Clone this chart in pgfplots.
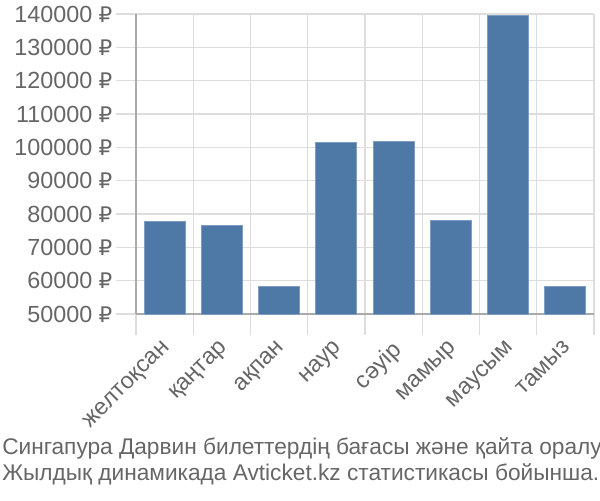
\documentclass[border=0pt]{standalone}
\usepackage{pgfplots}
\pgfplotsset{compat=1.18}
\usepackage{fontspec}
\setmainfont{Liberation Sans}
\newfontfamily\rub{DejaVu Sans}[Scale=0.92]
\definecolor{barc}{HTML}{4E79A7}
\definecolor{baredge}{HTML}{7F9DC2}
\definecolor{gridc}{HTML}{DDDDDD}
\definecolor{axc}{HTML}{AAAAAA}
\definecolor{txt}{HTML}{666666}
\begin{document}
\begin{tikzpicture}
\path[use as bounding box] (0,0) rectangle (450pt,-375pt);
\begin{axis}[
  at={(102pt,-235.5pt)}, anchor=south west,
  scale only axis, width=343.5pt, height=225pt,
  xmin=0, xmax=8, ymin=50000, ymax=140000,
  clip=true,
  axis x line*=bottom, axis y line*=left,
  axis line style={draw=axc, line width=0.9pt},
  xtick={0.5,1.5,...,7.5},
  xticklabels={желтоқсан,қаңтар,ақпан,наур,сәуір,мамыр,маусым,тамыз},
  minor xtick={0,1,...,8},
  ytick={50000,60000,...,140000},
  scaled y ticks=false,
  tick align=outside,
  major tick length=15pt, minor tick length=15.5pt,
  major x tick style={draw=none},
  minor x tick style={draw=gridc, line width=1pt},
  major y tick style={draw=gridc, line width=1pt},
  ymajorgrids, xminorgrids,
  major grid style={draw=gridc, line width=1pt},
  minor grid style={draw=gridc, line width=1pt},
  /pgf/number format/assume math mode=true,
  yticklabel={\pgfmathprintnumber[fixed,precision=0,1000 sep={}]{\tick}~{\rub ₽}},
  ticklabel style={font=\fontsize{17.5}{21}\selectfont, text=txt},
  yticklabel style={inner sep=0pt, xshift=-2.5pt},
  xticklabel style={rotate=45, anchor=north east, inner sep=0pt, xshift=-4.5pt, yshift=-1pt},
]
\addplot[ybar, bar width=30.75pt, fill=barc, draw=baredge, line width=0.6pt] coordinates {
 (0.5,77800) (1.5,76700) (2.5,58400) (3.5,101400) (4.5,101800) (5.5,78100) (6.5,139600) (7.5,58300)
};
\end{axis}
\node[anchor=base west, inner sep=0pt, text=txt, font=\fontsize{17}{21}\selectfont] at (1.5pt,-340.5pt) {Сингапура Дарвин билеттердің бағасы және қайта оралу};
\node[anchor=base west, inner sep=0pt, text=txt, font=\fontsize{17}{21}\selectfont] at (1.5pt,-360pt) {Жылдық динамикада Avticket.kz статистикасы бойынша.};
\end{tikzpicture}
\end{document}
